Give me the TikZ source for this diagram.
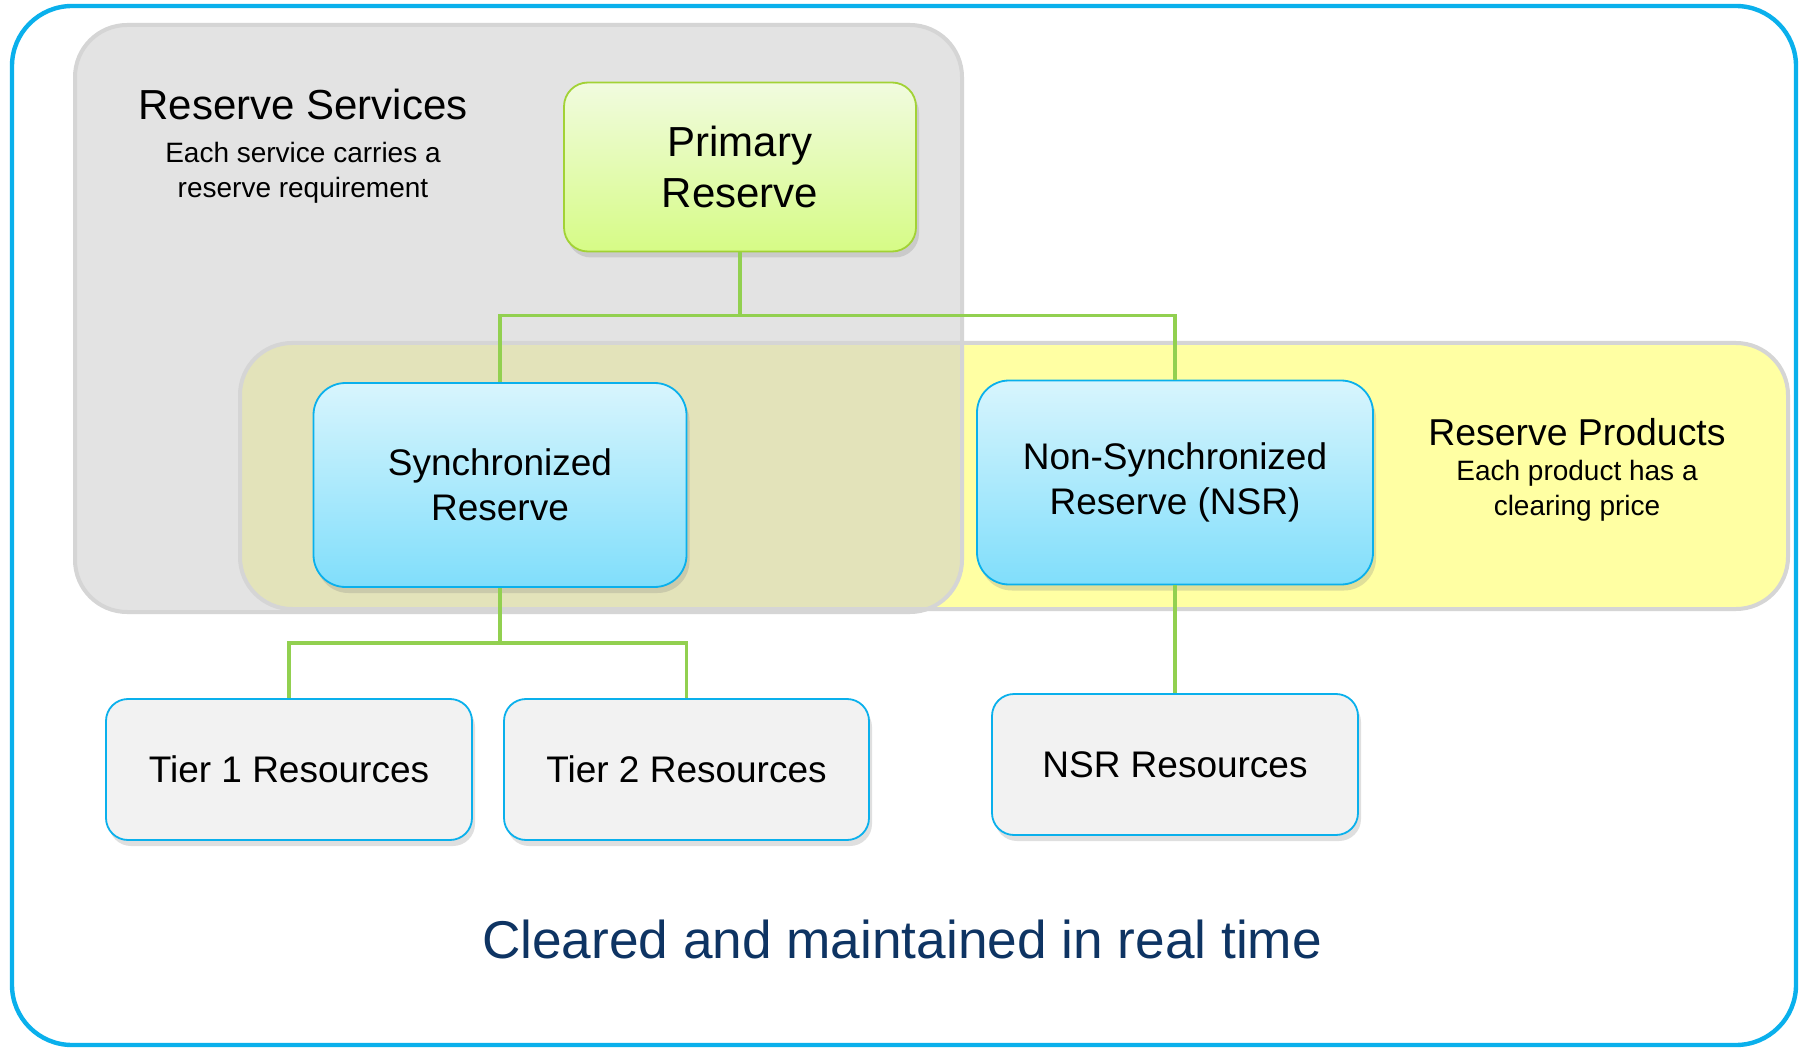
\documentclass[tikz,border=0pt]{standalone}
\usepackage{fontspec}
\setmainfont{Liberation Sans}
\usetikzlibrary{positioning,shadows}
\definecolor{frameblue}{HTML}{0AB0EC}
\definecolor{linkgreen}{HTML}{92D050}
\definecolor{panelgray}{HTML}{E3E3E3}
\definecolor{panelyellow}{HTML}{FFFFA3}
\definecolor{paneledge}{HTML}{D5D5D5}
\definecolor{overlapolive}{HTML}{E3E3BA}
\definecolor{primtop}{HTML}{F1FBDF}
\definecolor{primbot}{HTML}{D6FB86}
\definecolor{primedge}{HTML}{A2D235}
\definecolor{synctop}{HTML}{D8F5FD}
\definecolor{syncbot}{HTML}{80DEFB}
\definecolor{resfill}{HTML}{F2F2F2}
\definecolor{navytext}{HTML}{0E3463}

\begin{document}
\begin{tikzpicture}[x=0.5pt,y=-0.5pt,
  box/.style={rounded corners=11pt, draw=frameblue, line width=0.9pt, align=center, inner sep=0pt,
    drop shadow={opacity=0.25, shadow xshift=1.5pt, shadow yshift=-3pt}},
  primbox/.style={box, draw=primedge, top color=primtop, bottom color=primbot,
    minimum width=176pt, minimum height=84.5pt, rounded corners=12pt,
    font=\fontsize{21}{25.5}\selectfont},
  syncbox/.style={box, top color=synctop, bottom color=syncbot, rounded corners=16pt,
    minimum height=102pt, font=\fontsize{18.5}{22.5}\selectfont},
  resbox/.style={box, fill=resfill, minimum width=183pt, minimum height=70.5pt,
    font=\fontsize{18.5}{22}\selectfont},
  title/.style={font=\fontsize{21}{25}\selectfont, inner sep=0pt},
  note/.style={font=\fontsize{14}{17.5}\selectfont, align=center, inner sep=0pt},
  link/.style={linkgreen, line width=1.6pt}
]
% page and frame
\fill[white] (0,0) rectangle (1811,1048);
\useasboundingbox (0,0) rectangle (1811,1048);
\draw[frameblue, line width=2.2pt, rounded corners=30pt] (12,6) rectangle (1796,1045);

% panels
\fill[panelgray, rounded corners=26pt] (75,25) rectangle (962,612);
\fill[panelyellow, rounded corners=26pt] (240,343) rectangle (1788,609);
\begin{scope}
  \clip[rounded corners=26pt] (75,25) rectangle (962,612);
  \fill[overlapolive, rounded corners=26pt] (240,343) rectangle (1788,609);
\end{scope}
\draw[paneledge, line width=2pt, rounded corners=26pt] (240,343) rectangle (1788,609);
\draw[paneledge, line width=2pt, rounded corners=26pt] (75,25) rectangle (962,612);

% panel labels
\node[title] (svctitle) at (303,104) {Reserve Services};
\node[note] (svcnote) at (303,172.5) {Each service carries a\\reserve requirement};
\node[title, font=\fontsize{18.7}{22}\selectfont] (prodtitle) at (1577,432) {Reserve Products};
\node[note] (prodnote) at (1577,490.5) {Each product has a\\clearing price};

% boxes
\node[primbox] (prim) at (740,167) {Primary\\Reserve};
\node[syncbox, minimum width=186.5pt] (sync) at (500,485) {Synchronized\\Reserve};
\node[syncbox, minimum width=198pt] (nsr) at (1175,482.5) {Non-Synchronized\\Reserve (NSR)};
\node[resbox] (tierone) at (289,769.5) {Tier 1 Resources};
\node[resbox, minimum width=182.5pt] (tiertwo) at (686.5,769.5) {Tier 2 Resources};
\node[resbox] (nsrres) at (1175,764.5) {NSR Resources};

% links
\draw[link] (prim.south) -- ++(0,63) -| (sync.north);
\draw[link] (prim.south) -- ++(0,63) -| (nsr.north);
\draw[link] (sync.south) -- ++(0,55) -| (tierone.north);
\draw[link] (sync.south) -- ++(0,55) -| (tiertwo.north);
\draw[link] (nsr.south) -- (nsrres.north);

\node[font=\fontsize{26.6}{30}\selectfont, text=navytext] (caption) at (902,939) {Cleared and maintained in real time};
\end{tikzpicture}
\end{document}
